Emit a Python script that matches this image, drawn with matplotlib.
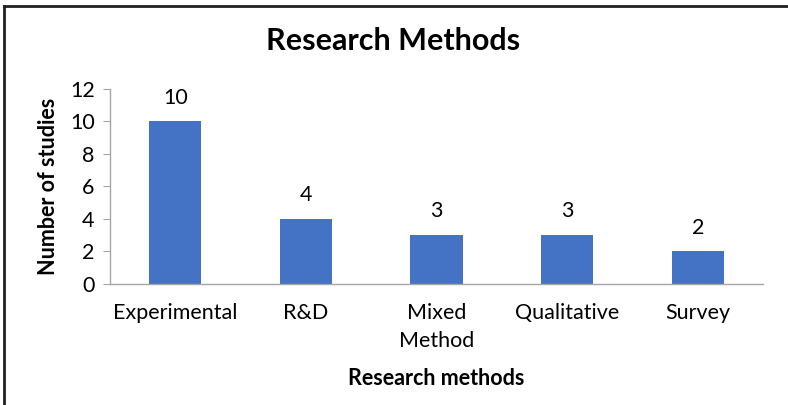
import matplotlib.pyplot as plt
from matplotlib.lines import Line2D

plt.rcParams['font.family'] = ['Lato', 'DejaVu Sans']

methods = ['Experimental', 'R&D', 'Mixed\nMethod', 'Qualitative', 'Survey']
studies = [10, 4, 3, 3, 2]

fig = plt.figure(figsize=(7.88, 4.05), dpi=100)
ax = fig.add_axes([0.1396, 0.2988, 0.8287, 0.4815])

bars = ax.bar(range(len(methods)), studies, width=0.4, color='#4472c4')
for rect, v in zip(bars, studies):
    ax.annotate(str(v), (rect.get_x() + rect.get_width() / 2, v),
                xytext=(0, 10), textcoords='offset points',
                ha='center', va='bottom', fontsize=15.5, color='#000000')

ax.set_xlim(-0.5, len(methods) - 0.5)
ax.set_ylim(0, 12)
ax.set_yticks(range(0, 13, 2))
ax.set_xticks(range(len(methods)))
ax.set_xticklabels(methods, fontsize=15.5, linespacing=1.5)
ax.tick_params(axis='x', length=0, pad=14)
ax.tick_params(axis='y', length=5, color='#a6a6a6', labelsize=15.5, pad=6)

for side in ['top', 'right']:
    ax.spines[side].set_visible(False)
for side in ['left', 'bottom']:
    ax.spines[side].set_color('#a6a6a6')
    ax.spines[side].set_linewidth(1.0)

ax.set_ylabel('Number of studies', fontsize=15.5, fontweight='bold', labelpad=8)
ax.set_xlabel('Research methods', fontsize=15.5, fontweight='bold', labelpad=12)
fig.text(0.499, 0.90, 'Research Methods', ha='center', va='center',
         fontsize=22, fontweight='bold')

# frame lines along the top and left edge
fig.add_artist(Line2D([0.005, 1.0], [0.985, 0.985], color='#231f20', lw=2,
                      transform=fig.transFigure))
fig.add_artist(Line2D([0.005, 0.005], [0.0, 0.985], color='#231f20', lw=2,
                      transform=fig.transFigure))

fig.savefig('out.png', dpi=100)
